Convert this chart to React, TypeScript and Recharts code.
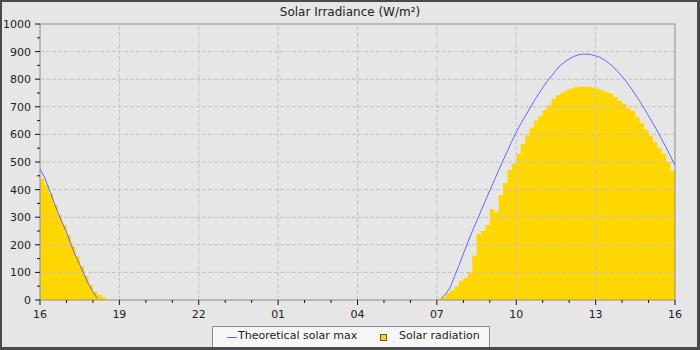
import React from 'react';
import { ComposedChart, Area, Line, XAxis, YAxis, ReferenceLine, Legend } from 'recharts';

const times = [
  '16:00','16:10','16:20','16:30','16:40','16:50','17:00','17:10','17:20','17:30','17:40','17:50','18:00','18:10','18:20','18:30',
  '07:00','07:10','07:20','07:30','07:40','07:50','08:00','08:10','08:20','08:30','08:40','08:50',
  '09:00','09:10','09:20','09:30','09:40','09:50','10:00','10:10','10:20','10:30','10:40','10:50',
  '11:00','11:10','11:20','11:30','11:40','11:50','12:00','12:10','12:20','12:30','12:40','12:50',
  '13:00','13:10','13:20','13:30','13:40','13:50','14:00','14:10','14:20','14:30','14:40','14:50',
  '15:00','15:10','15:20','15:30','15:40','15:50','16:00',
];

const theoreticalMax: (number | null)[] = [
  475, 445, 405, 362, 320, 282, 246, 203, 163, 128, 93, 58, 30, 5, null, null,
  null, 5, 22, 45, 85, 125, 167, 208, 248, 285, 322, 360,
  397, 432, 470, 505, 540, 575, 608, 638, 665, 692, 720, 745,
  769, 792, 812, 832, 850, 863, 873, 882, 888, 891, 891, 889,
  885, 879, 870, 858, 845, 828, 810, 790, 768, 745, 720, 694,
  667, 640, 612, 582, 552, 520, 488,
];

const solarRadiation: number[] = [
  440, 418, 385, 345, 308, 272, 235, 195, 158, 122, 86, 55, 30, 18, 10, 0,
  5, 10, 25, 35, 50, 70, 80, 100, 160, 240, 250, 272,
  330, 318, 380, 423, 471, 495, 530, 565, 595, 625, 650, 668,
  688, 705, 728, 742, 752, 760, 766, 770, 773, 773, 773, 770,
  765, 760, 754, 748, 735, 722, 710, 695, 685, 662, 640, 617,
  595, 572, 550, 530, 500, 468, 425,
];

const xTickLabels = ['16', '19', '22', '01', '04', '07', '10', '13', '16'];
const yTickLabels = ['0', '100', '200', '300', '400', '500', '600', '700', '800', '900', '1000'];

const seriesNames = { theoretical: 'Theoretical solar max', radiation: 'Solar radiation' };
const FONT = '"DejaVu Sans", sans-serif';
const BLUE = '#6464ff';
const GOLD = '#ffd700';
const AXIS_GRAY = '#8c8c8c';
const GRID_GRAY = '#c3c3c3';

// convert clock times to hours since 16:00 on the first day
const hours: number[] = [];
times.forEach((t, i) => {
  const [hh, mm] = t.split(':').map(Number);
  let h = hh + mm / 60 - 16;
  if (h < 0) h += 24;
  if (i > 0 && h <= hours[i - 1]) h += 24;
  hours.push(h);
});

const data = times.map((t, i) => ({
  h: hours[i],
  theoretical: theoreticalMax[i],
  radiation: solarRadiation[i],
}));

const hourTicks = Array.from({ length: 25 }, (_, i) => i);
const yTicks = Array.from({ length: 21 }, (_, i) => i * 50);
const xMajor = xTickLabels.map((_, i) => i * 3);
const yMajor = yTickLabels.map((_, i) => i * 100);

const XTick = (props: any) => {
  const { x, y, payload } = props;
  const v = payload.value;
  const major = v % 3 === 0;
  return (
    <g>
      <line x1={x} x2={x} y1={y} y2={y + (major ? 5 : 3)} stroke="#111" strokeWidth={1} />
      {major && (
        <text x={x} y={y + 10} dy="0.71em" textAnchor="middle" fill="#222" fontSize={11} fontFamily={FONT}>
          {xTickLabels[v / 3]}
        </text>
      )}
    </g>
  );
};

const YTick = (props: any) => {
  const { x, y, payload } = props;
  const v = payload.value;
  const major = v % 100 === 0;
  return (
    <g>
      <line x1={x - (major ? 5 : 3)} x2={x} y1={y} y2={y} stroke="#111" strokeWidth={1} />
      {major && (
        <text x={x - 9} y={y} dy="0.355em" textAnchor="end" fill="#222" fontSize={11} fontFamily={FONT}>
          {yTickLabels[v / 100]}
        </text>
      )}
    </g>
  );
};

const LegendBox = () => (
  <div
    style={{
      position: 'relative',
      width: 278,
      height: 24,
      boxSizing: 'border-box',
      border: `1px solid ${AXIS_GRAY}`,
      background: '#f6f6f6',
      fontFamily: FONT,
      fontSize: 11,
      color: '#222',
    }}
  >
    <div style={{ position: 'absolute', left: 14, top: 10, width: 10, height: 1, background: BLUE }} />
    <div style={{ position: 'absolute', left: 25, top: 2, lineHeight: '14px', whiteSpace: 'nowrap' }}>
      {seriesNames.theoretical}
    </div>
    <div
      style={{
        position: 'absolute',
        left: 167,
        top: 7,
        width: 7,
        height: 7,
        boxSizing: 'border-box',
        border: '1px solid #555',
        background: GOLD,
      }}
    />
    <div style={{ position: 'absolute', left: 186, top: 2, lineHeight: '14px', whiteSpace: 'nowrap' }}>
      {seriesNames.radiation}
    </div>
  </div>
);

export default function App() {
  return (
    <div style={{ position: 'absolute', left: 0, top: 0, width: 700, height: 350, background: '#e6e6e6', overflow: 'hidden' }}>
      <div
        style={{
          position: 'absolute',
          left: 0,
          right: 0,
          top: 5,
          textAlign: 'center',
          fontFamily: FONT,
          fontSize: 12,
          lineHeight: '14px',
          color: '#222',
        }}
      >
        Solar Irradiance (W/m²)
      </div>
      <div style={{ position: 'absolute', left: 0, top: 0 }}>
        <ComposedChart width={700} height={350} data={data} margin={{ top: 24, right: 25, bottom: 0, left: 0 }}>
          <XAxis
            dataKey="h"
            type="number"
            domain={[0, 24]}
            allowDataOverflow
            ticks={hourTicks}
            interval={0}
            tickSize={0}
            tickMargin={0}
            tickLine={false}
            tick={<XTick />}
            height={50}
            axisLine={{ stroke: AXIS_GRAY }}
          />
          <YAxis
            type="number"
            domain={[0, 1000]}
            allowDataOverflow
            ticks={yTicks}
            interval={0}
            tickSize={0}
            tickMargin={0}
            tickLine={false}
            tick={<YTick />}
            width={40}
            axisLine={{ stroke: AXIS_GRAY }}
          />
          {yMajor.slice(1, -1).map((v) => (
            <ReferenceLine key={'y' + v} y={v} stroke={GRID_GRAY} strokeDasharray="4 2" />
          ))}
          {xMajor.slice(1, -1).map((v) => (
            <ReferenceLine key={'x' + v} x={v} stroke={GRID_GRAY} strokeDasharray="4 2" />
          ))}
          <ReferenceLine y={1000} stroke={AXIS_GRAY} />
          <ReferenceLine x={24} stroke={AXIS_GRAY} />
          <Area
            type="stepAfter"
            dataKey="radiation"
            name={seriesNames.radiation}
            fill={GOLD}
            fillOpacity={1}
            stroke="none"
            isAnimationActive={false}
            legendType="square"
          />
          <Line
            type="linear"
            dataKey="theoretical"
            name={seriesNames.theoretical}
            stroke={BLUE}
            strokeWidth={1}
            dot={false}
            activeDot={false}
            connectNulls={false}
            isAnimationActive={false}
            legendType="line"
          />
          <Legend
            layout="horizontal"
            verticalAlign="middle"
            align="center"
            content={() => <LegendBox />}
            wrapperStyle={{ top: 326, left: 212, right: 'auto', bottom: 'auto', width: 278, height: 24 }}
          />
        </ComposedChart>
      </div>
      <div
        style={{
          position: 'absolute',
          left: 0,
          top: 0,
          width: 700,
          height: 350,
          boxSizing: 'border-box',
          borderTop: '2px solid #4a4a4a',
          borderLeft: '2px solid #4a4a4a',
          borderRight: '3px solid #4a4a4a',
          borderBottom: '3px solid #4a4a4a',
          pointerEvents: 'none',
        }}
      />
    </div>
  );
}
